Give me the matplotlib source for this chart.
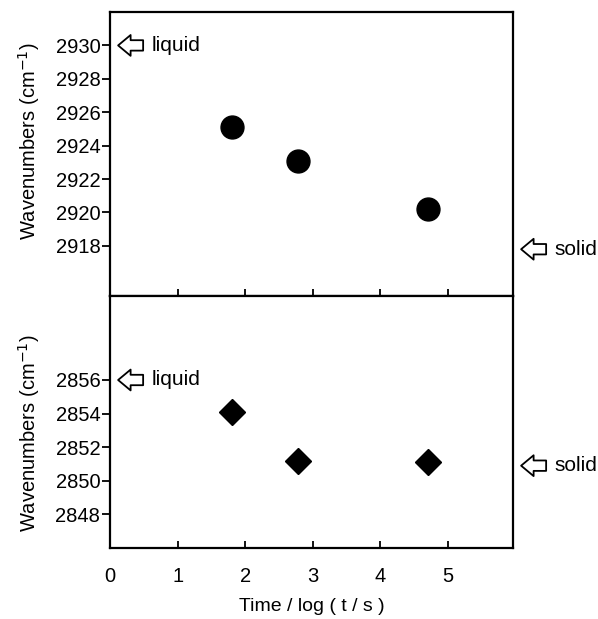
import matplotlib
matplotlib.use("Agg")
from matplotlib import pyplot as plt

plt.rcParams['font.family'] = ['Liberation Sans', 'DejaVu Sans']

time_log = [1.8, 2.78, 4.7]
ch2_asym = [2925.1, 2923.1, 2920.2]
ch2_sym = [2854.1, 2851.2, 2851.1]

liquid_top, solid_top = 2930, 2917.8
liquid_bot, solid_bot = 2856, 2850.9

fig = plt.figure(figsize=[5.98, 6.19], dpi=100)
W, H = 598.0, 619.0
left, right = 110 / W, 513 / W
ax1 = fig.add_axes([left, 1 - 296 / H, right - left, (296 - 12) / H])
ax2 = fig.add_axes([left, 1 - 548 / H, right - left, (548 - 296) / H])

ax1.plot(time_log, ch2_asym, 'o', color='black', markersize=16.5)
ax2.plot(time_log, ch2_sym, 'D', color='black', markersize=13)

ax1.set_ylim(2915, 2932)
ax2.set_ylim(2846, 2861)
ax1.set_yticks([2918, 2920, 2922, 2924, 2926, 2928, 2930])
ax2.set_yticks([2848, 2850, 2852, 2854, 2856])

for ax in (ax1, ax2):
    ax.set_xlim(0, 5.96)
    ax.set_xticks([0, 1, 2, 3, 4, 5])
    ax.tick_params(axis='x', direction='in', length=5, width=1.3)
    ax.tick_params(axis='y', direction='out', length=6, width=1.3, labelsize=14.5, pad=1)
    for s in ax.spines.values():
        s.set_linewidth(1.6)
    ax.set_ylabel('Wavenumbers (cm$^{-1}$)', fontsize=14.5)

ax1.yaxis.set_label_coords(-0.168, 0.546)
ax2.yaxis.set_label_coords(-0.168, 0.456)

ax1.tick_params(axis='x', labelbottom=False)
ax2.tick_params(axis='x', labelsize=14.5, pad=14)
ax2.set_xlabel('Time / log ( t / s )', fontsize=14, labelpad=8)

arrow = dict(arrowstyle='simple,head_length=0.9,head_width=1.5,tail_width=0.75',
             mutation_scale=10, facecolor='white', edgecolor='black', lw=1.3,
             shrinkA=0, shrinkB=0)


def mark(ax, xa, y, text):
    ax.annotate('', xy=(xa, y), xytext=(xa + 0.37, y), xycoords='data',
                arrowprops=arrow, annotation_clip=False)
    ax.text(xa + 0.49, y, text, fontsize=15, va='center', ha='left', clip_on=False)


mark(ax1, 0.12, liquid_top, 'liquid')
mark(ax2, 0.12, liquid_bot, 'liquid')
mark(ax1, 6.08, solid_top, 'solid')
mark(ax2, 6.08, solid_bot, 'solid')

fig.savefig('out.png', dpi=100)
